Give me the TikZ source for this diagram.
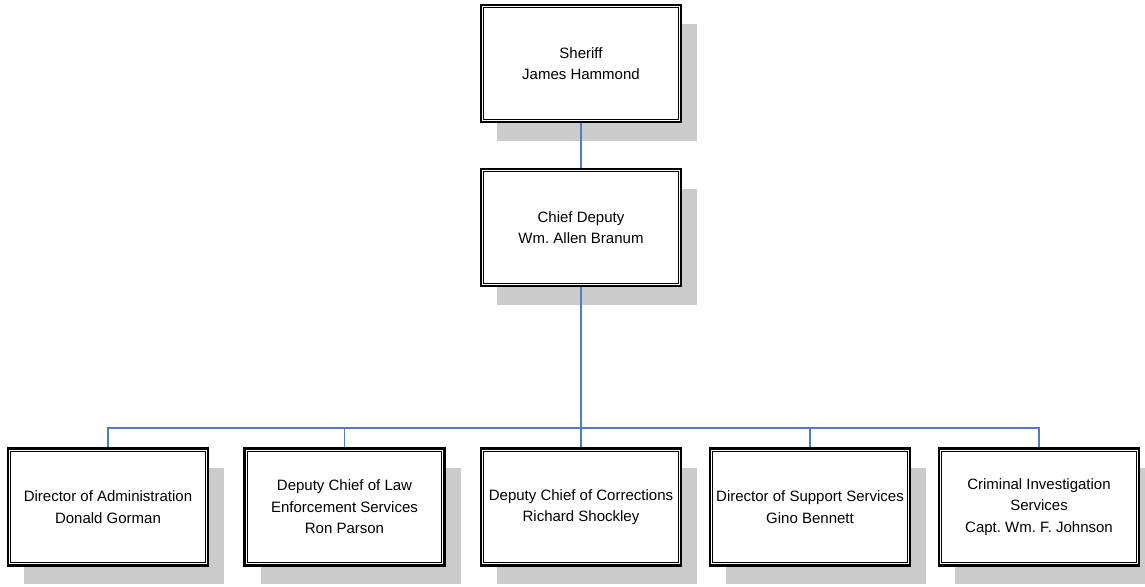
\documentclass[tikz,border=0pt]{standalone}
\usepackage{fontspec}
\setmainfont{Liberation Sans}
\definecolor{shadowgray}{HTML}{CBCBCB}
\definecolor{linkblue}{HTML}{4F7DB5}
\begin{document}
\frenchspacing
\begin{tikzpicture}[x=1pt,y=-1pt,
  orgbox/.style={draw=black, line width=2.6pt, fill=white, minimum width=200pt,
    minimum height=117pt, inner sep=0pt, align=center,
    font=\fontsize{15}{21.5}\selectfont},
  link/.style={draw=linkblue, line width=1.4pt}]
\useasboundingbox (0,0) rectangle (1145,586);
% shadows
\foreach \x/\y in {581/63.5, 581/227.5, 108/507, 344.5/507, 581/507, 810/507, 1039/507}
  \fill[shadowgray] (\x-100+16,\y-58+19) rectangle (\x+100+16,\y+58+19);
% nodes
\node[orgbox] (sheriff) at (581,63.5) {Sheriff\\James Hammond};
\node[orgbox] (chief) at (581,227.5) {Chief Deputy\\Wm. Allen Branum};
\node[orgbox] (adm) at (108,507) {Director of Administration\\Donald Gorman};
\node[orgbox] (law) at (344.5,507) {Deputy Chief of Law\\Enforcement Services\\Ron Parson};
\node[orgbox] (cor) at (581,507) {Deputy Chief of Corrections\\Richard Shockley};
\node[orgbox] (sup) at (810,507) {Director of Support Services\\Gino Bennett};
\node[orgbox] (cri) at (1039,507) {Criminal Investigation\\Services\\Capt. Wm. F. Johnson};
% inner borders
\foreach \n in {sheriff,chief,adm,law,cor,sup,cri}
  \draw[line width=1.1pt] ([shift={(4,4)}]\n.north west) rectangle ([shift={(-4,-4)}]\n.south east);
% connectors
\coordinate (bus) at (581,428);
\draw[link] (sheriff.south) -- (chief.north);
\draw[link] (chief.south) -- (bus);
\draw[link] (adm.north) -- (adm.north |- bus) -- (cri.north |- bus) -- (cri.north);
\foreach \n in {law,cor,sup}
  \draw[link] (\n.north |- bus) -- (\n.north);
\end{tikzpicture}
\end{document}
